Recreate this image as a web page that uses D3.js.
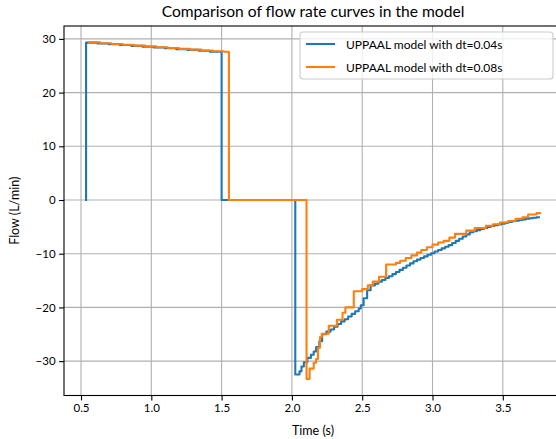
<!DOCTYPE html>
<html><head><meta charset="utf-8">
<script src="https://cdn.jsdelivr.net/npm/d3@7"></script>
<style>body{margin:0;background:#fff}svg{display:block}text{font-family:Lato,"Open Sans",sans-serif;fill:#000}</style>
</head><body><svg id="c" width="556" height="439"></svg>
<script>
// Data (time in s, flow in L/min); stair knots (value holds until next time)
const blueTime = [0.536,0.536,0.616,0.696,0.776,0.856,0.936,1.016,1.096,1.176,1.256,1.336,1.416,1.500,
 2.024,2.054,2.068,2.085,2.110,2.135,2.155,2.172,2.195,2.215,2.245,2.275,2.300,2.325,2.350,2.375,2.400,2.425,2.450,2.475,
 2.490,2.510,2.535,2.560,2.590,2.615,2.640,2.665,2.690,2.715,2.740,2.765,2.790,2.815,2.840,2.865,2.890,2.915,2.940,2.965,
 2.990,3.015,3.040,3.065,3.090,3.115,3.140,3.165,3.190,3.215,3.240,3.265,3.290,3.315,3.340,3.365,3.390,3.415,3.440,3.465,
 3.490,3.515,3.540,3.565,3.590,3.615,3.640,3.665,3.690,3.715,3.740,3.757];
const blueFlow = [0,29.3,29.15,29.0,28.85,28.7,28.55,28.4,28.25,28.1,27.95,27.8,27.6,0,
 -32.5,-31.9,-31.0,-30.2,-29.4,-28.8,-28.2,-27.4,-26.3,-25.0,-24.5,-24.1,-23.6,-23.1,-22.6,-22.2,-21.7,-21.2,-20.7,-20.2,
 -19.6,-18.3,-16.8,-15.9,-15.6,-15.2,-14.9,-14.5,-14.2,-13.8,-13.4,-13.0,-12.6,-12.2,-11.8,-11.4,-11.1,-10.8,-10.5,-10.2,
 -9.9,-9.6,-9.3,-9.0,-8.7,-8.4,-8.0,-7.6,-7.2,-6.8,-6.4,-6.0,-5.8,-5.6,-5.4,-5.2,-5.0,-4.85,-4.7,-4.55,
 -4.4,-4.25,-4.1,-3.95,-3.85,-3.7,-3.6,-3.5,-3.4,-3.3,-3.2,-3.2];
const orangeTime = [0.557,0.637,0.717,0.797,0.877,0.957,1.037,1.117,1.197,1.277,1.357,1.437,1.517,1.552,
 2.104,2.126,2.155,2.172,2.185,2.200,2.212,2.262,2.320,2.360,2.380,2.440,2.500,2.540,2.575,2.620,2.670,2.740,2.770,
 2.810,2.850,2.890,2.920,2.960,3.000,3.040,3.080,3.120,3.160,3.240,3.300,3.380,3.430,3.480,3.540,3.590,3.640,3.680,3.740,3.765];
const orangeFlow = [29.35,29.2,29.05,28.9,28.75,28.6,28.45,28.3,28.15,28.0,27.85,27.7,27.6,0,
 -33.3,-31.4,-30.3,-29.6,-27.5,-25.5,-24.9,-23.4,-22.3,-21.0,-20.0,-17.0,-16.6,-15.9,-15.2,-14.3,-12.0,-11.7,-11.3,
 -10.8,-10.3,-9.8,-9.3,-8.8,-8.3,-7.9,-7.6,-7.0,-6.3,-5.7,-5.2,-4.8,-4.5,-4.2,-3.9,-3.5,-3.2,-2.7,-2.45,-2.45];
const seriesNames = ["UPPAAL model with dt=0.04s","UPPAAL model with dt=0.08s"];
const seriesColors = ["#1f77b4","#ff7f0e"];
const xTicks = [0.5,1.0,1.5,2.0,2.5,3.0,3.5];
const yTicks = [-30,-20,-10,0,10,20,30];
const titleText = "Comparison of flow rate curves in the model";
const xLabel = "Time (s)", yLabel = "Flow (L/min)";

const svg = d3.select("#c");
const L = 64, R = 562, T = 26, B = 395.5;
const x = d3.scaleLinear().domain([0.379, 3.921]).range([L, R]);
const y = d3.scaleLinear().domain([-36.4, 32.4]).range([B, T]);

// grid
const g = svg.append("g");
g.selectAll(".gx").data(xTicks).enter().append("line")
  .attr("x1", d => x(d)).attr("x2", d => x(d)).attr("y1", T).attr("y2", B)
  .attr("stroke", "#b0b0b0").attr("stroke-width", 1.1);
g.selectAll(".gy").data(yTicks).enter().append("line")
  .attr("x1", L).attr("x2", R).attr("y1", d => y(d)).attr("y2", d => y(d))
  .attr("stroke", "#b0b0b0").attr("stroke-width", 1.1);

// lines
const series = [
  blueTime.map((t, i) => [t, blueFlow[i]]),
  orangeTime.map((t, i) => [t, orangeFlow[i]])
];
const line = d3.line().x(d => x(d[0])).y(d => y(d[1])).curve(d3.curveStepAfter);
series.forEach((s, i) => {
  svg.append("path").datum(s).attr("d", line).attr("fill", "none")
    .attr("stroke", seriesColors[i]).attr("stroke-width", 2.1)
    .attr("stroke-linejoin", "round").attr("stroke-linecap", "square");
});

// axes
const fmtMinus = s => s.replace("-", "\u2212");
const xAxis = d3.axisBottom(x).tickValues(xTicks).tickFormat(d3.format(".1f")).tickSize(4.9).tickPadding(3.5);
const yAxis = d3.axisLeft(y).tickValues(yTicks).tickFormat(d => fmtMinus(String(d))).tickSize(4.9).tickPadding(3.5);
const gx = svg.append("g").attr("transform", `translate(0,${B})`).call(xAxis);
const gy = svg.append("g").attr("transform", `translate(${L},0)`).call(yAxis);
[gx, gy].forEach(a => {
  a.select(".domain").remove();
  a.selectAll(".tick line").attr("stroke", "#000").attr("stroke-width", 1.1);
  a.selectAll(".tick text").attr("font-size", 11.5).attr("font-family", "Lato").attr("fill", "#000");
});
// spines
svg.append("rect").attr("x", L).attr("y", T).attr("width", R - L).attr("height", B - T)
  .attr("fill", "none").attr("stroke", "#000").attr("stroke-width", 1.1);

// title and labels
svg.append("text").attr("x", (L + R) / 2).attr("y", 17).attr("text-anchor", "middle")
  .attr("font-size", 15.6).text(titleText);
svg.append("text").attr("x", (L + R) / 2).attr("y", 435).attr("text-anchor", "middle")
  .attr("font-size", 12.5).text(xLabel);
svg.append("text").attr("transform", `translate(19,${(T + B) / 2}) rotate(-90)`).attr("text-anchor", "middle")
  .attr("font-size", 12.5).text(yLabel);

// legend
const lg = svg.append("g");
lg.append("rect").attr("x", 300).attr("y", 32).attr("width", 253).attr("height", 47).attr("rx", 3)
  .attr("fill", "#fff").attr("fill-opacity", 0.8).attr("stroke", "#cccccc").attr("stroke-width", 1.1);
seriesNames.forEach((n, i) => {
  const yy = 44 + i * 23;
  lg.append("line").attr("x1", 306).attr("x2", 335).attr("y1", yy).attr("y2", yy)
    .attr("stroke", seriesColors[i]).attr("stroke-width", 2.1);
  lg.append("text").attr("x", 346).attr("y", yy + 4.5).attr("font-size", 12).text(n);
});
</script></body></html>
